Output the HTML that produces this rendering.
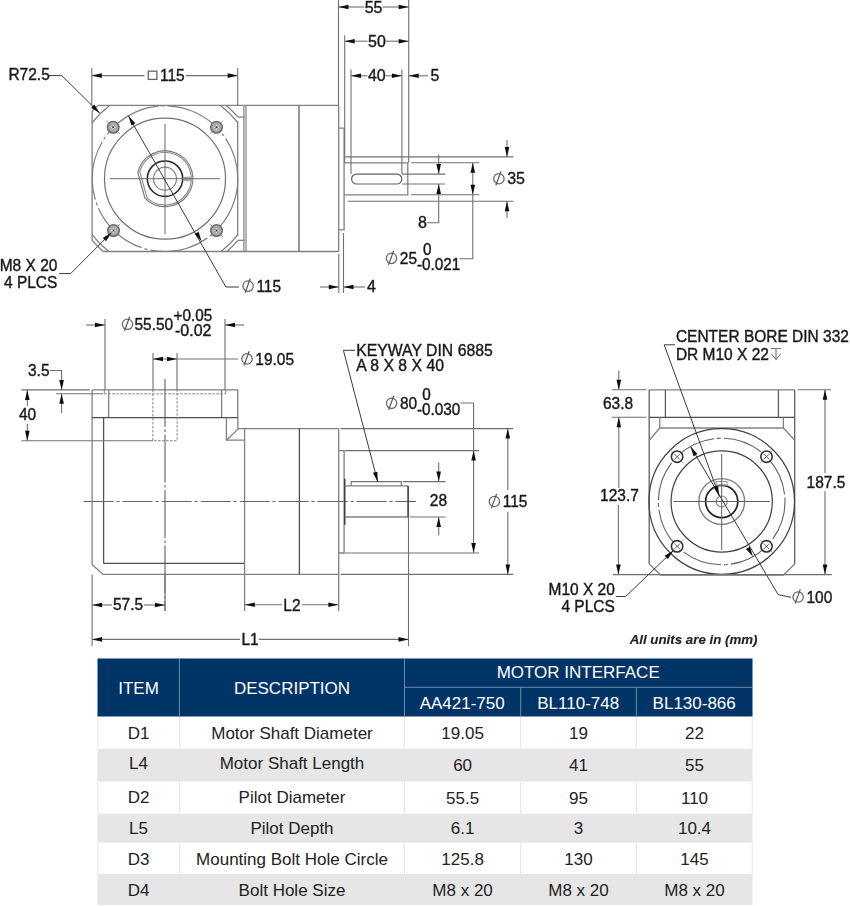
<!DOCTYPE html>
<html><head><meta charset="utf-8"><style>
html,body{margin:0;padding:0;background:#fff;}
svg{display:block;}
text{font-family:"Liberation Sans",sans-serif;}
.dt text{}
</style></head><body>
<svg width="850" height="906" viewBox="0 0 850 906">
<defs><filter id="bl" x="0" y="0" width="850" height="906" filterUnits="userSpaceOnUse"><feGaussianBlur stdDeviation="0.5"/></filter></defs>
<g filter="url(#bl)">
<line x1="92.10" y1="111.00" x2="92.10" y2="240.40" stroke="#808080" stroke-width="1.3" />
<line x1="98.00" y1="105.40" x2="338.70" y2="105.40" stroke="#808080" stroke-width="1.3" />
<line x1="103.20" y1="251.50" x2="338.70" y2="251.50" stroke="#808080" stroke-width="1.3" />
<line x1="237.70" y1="121.30" x2="237.70" y2="236.10" stroke="#808080" stroke-width="1.3" />
<path d="M92.10,111.00 L98.00,105.40" stroke="#808080" stroke-width="1.3" fill="none" />
<path d="M109.57,105.40 A91.9,91.9 0 0 0 92.10,122.74" stroke="#808080" stroke-width="1.3" fill="none"/>
<path d="M220.43,105.40 A91.9,91.9 0 0 1 237.70,122.48" stroke="#808080" stroke-width="1.3" fill="none"/>
<path d="M226.22,105.40 A95.5,95.5 0 0 1 237.70,116.77" stroke="#808080" stroke-width="1.3" fill="none"/>
<path d="M108.91,251.50 A91.9,91.9 0 0 1 92.10,234.66" stroke="#808080" stroke-width="1.3" fill="none"/>
<path d="M103.19,251.50 A95.5,95.5 0 0 1 92.10,240.39" stroke="#808080" stroke-width="1.3" fill="none"/>
<path d="M221.09,251.50 A91.9,91.9 0 0 0 237.70,234.92" stroke="#808080" stroke-width="1.3" fill="none"/>
<path d="M226.81,251.50 A95.5,95.5 0 0 0 237.70,240.63" stroke="#808080" stroke-width="1.3" fill="none"/>
<line x1="237.70" y1="117.00" x2="244.80" y2="117.00" stroke="#808080" stroke-width="1.3" />
<line x1="237.70" y1="240.30" x2="244.80" y2="240.30" stroke="#808080" stroke-width="1.3" />
<circle cx="165.00" cy="178.70" r="72.80" stroke="#808080" stroke-width="1.2" fill="none" stroke-dasharray="60 3 3 3"/>
<circle cx="165.00" cy="178.70" r="60.50" stroke="#707070" stroke-width="1.2" fill="none" />
<path d="M137.82,172.42 A27.9,27.9 0 1 1 144.93,198.08 Z" stroke="#7a7a7a" stroke-width="1.2" fill="none"/>
<path d="M139.72,171.45 A26.3,26.3 0 1 1 147.06,197.93 Z" stroke="#8a8a8a" stroke-width="1.1" fill="none"/>
<circle cx="165.00" cy="178.70" r="17.70" stroke="#2a2a2a" stroke-width="1.6" fill="none" />
<circle cx="165.00" cy="178.70" r="11.50" stroke="#808080" stroke-width="1.2" fill="none" />
<rect x="183.5" y="176.7" width="8.3" height="4.5" fill="#a8a8a8"/>
<line x1="110.00" y1="178.70" x2="220.00" y2="178.70" stroke="#6a6a6a" stroke-width="1.0" />
<line x1="165.00" y1="124.00" x2="165.00" y2="234.00" stroke="#6a6a6a" stroke-width="1.0" />
<line x1="119.94" y1="133.99" x2="106.46" y2="120.61" stroke="#a0a0a0" stroke-width="1.0" />
<circle cx="113.20" cy="127.30" r="5.80" stroke="#6a6a6a" stroke-width="1.5" fill="#ababab" />
<line x1="111.00" y1="127.30" x2="115.40" y2="127.30" stroke="#fff" stroke-width="1.0" />
<line x1="113.20" y1="125.10" x2="113.20" y2="129.50" stroke="#fff" stroke-width="1.0" />
<circle cx="113.20" cy="127.30" r="1.00" stroke="none" stroke-width="0" fill="#222" />
<line x1="209.78" y1="134.01" x2="223.22" y2="120.59" stroke="#a0a0a0" stroke-width="1.0" />
<circle cx="216.50" cy="127.30" r="5.80" stroke="#6a6a6a" stroke-width="1.5" fill="#ababab" />
<line x1="214.30" y1="127.30" x2="218.70" y2="127.30" stroke="#fff" stroke-width="1.0" />
<line x1="216.50" y1="125.10" x2="216.50" y2="129.50" stroke="#fff" stroke-width="1.0" />
<circle cx="216.50" cy="127.30" r="1.00" stroke="none" stroke-width="0" fill="#222" />
<line x1="120.20" y1="223.76" x2="106.80" y2="237.24" stroke="#a0a0a0" stroke-width="1.0" />
<circle cx="113.50" cy="230.50" r="5.80" stroke="#6a6a6a" stroke-width="1.5" fill="#ababab" />
<line x1="111.30" y1="230.50" x2="115.70" y2="230.50" stroke="#fff" stroke-width="1.0" />
<line x1="113.50" y1="228.30" x2="113.50" y2="232.70" stroke="#fff" stroke-width="1.0" />
<circle cx="113.50" cy="230.50" r="1.00" stroke="none" stroke-width="0" fill="#222" />
<line x1="209.80" y1="223.76" x2="223.20" y2="237.24" stroke="#a0a0a0" stroke-width="1.0" />
<circle cx="216.50" cy="230.50" r="5.80" stroke="#6a6a6a" stroke-width="1.5" fill="#ababab" />
<line x1="214.30" y1="230.50" x2="218.70" y2="230.50" stroke="#fff" stroke-width="1.0" />
<line x1="216.50" y1="228.30" x2="216.50" y2="232.70" stroke="#fff" stroke-width="1.0" />
<circle cx="216.50" cy="230.50" r="1.00" stroke="none" stroke-width="0" fill="#222" />
<line x1="128.35" y1="115.80" x2="225.90" y2="287.00" stroke="#3a3a3a" stroke-width="1.0" />
<path d="M128.35,115.80 L131.39,125.60 L135.37,123.28 Z" fill="#111"/>
<path d="M201.65,241.60 L198.61,231.80 L194.63,234.12 Z" fill="#111"/>
<line x1="225.90" y1="287.00" x2="238.80" y2="287.00" stroke="#3a3a3a" stroke-width="1.0" />
<circle cx="248.10" cy="286.10" r="5.20" stroke="#666" stroke-width="1.25" fill="none"/>
<line x1="245.10" y1="292.70" x2="250.30" y2="278.50" stroke="#555" stroke-width="1.2"/>
<text transform="translate(256.40,291.80) scale(0.95,1)" font-size="16.32" text-anchor="start" fill="#1a1a1a" stroke="#1a1a1a" stroke-width="0.4" >115</text>
<text transform="translate(8.40,80.30) scale(0.95,1)" font-size="16.32" text-anchor="start" fill="#1a1a1a" stroke="#1a1a1a" stroke-width="0.4" >R72.5</text>
<path d="M48.50,75.60 L61.80,75.60 L99.80,113.20" stroke="#3a3a3a" stroke-width="1.0" fill="none" />
<path d="M99.80,113.20 L94.31,104.53 L91.07,107.80 Z" fill="#111"/>
<line x1="91.80" y1="68.00" x2="91.80" y2="105.40" stroke="#707070" stroke-width="1.1" />
<line x1="237.70" y1="68.00" x2="237.70" y2="105.40" stroke="#707070" stroke-width="1.1" />
<line x1="91.80" y1="75.60" x2="144.50" y2="75.60" stroke="#707070" stroke-width="1.1" />
<line x1="186.00" y1="75.60" x2="237.70" y2="75.60" stroke="#707070" stroke-width="1.1" />
<path d="M91.80,75.60 L101.80,77.90 L101.80,73.30 Z" fill="#111"/>
<path d="M237.70,75.60 L227.70,73.30 L227.70,77.90 Z" fill="#111"/>
<rect x="148.3" y="71.2" width="8.6" height="8.2" fill="none" stroke="#666" stroke-width="1.3"/>
<text transform="translate(160.00,80.90) scale(0.95,1)" font-size="16.32" text-anchor="start" fill="#1a1a1a" stroke="#1a1a1a" stroke-width="0.4" >115</text>
<text transform="translate(57.40,270.60) scale(0.95,1)" font-size="16.32" text-anchor="end" fill="#1a1a1a" stroke="#1a1a1a" stroke-width="0.4" >M8 X 20</text>
<text transform="translate(57.40,287.90) scale(0.95,1)" font-size="16.32" text-anchor="end" fill="#1a1a1a" stroke="#1a1a1a" stroke-width="0.4" >4 PLCS</text>
<path d="M59.00,273.60 L70.60,273.60 L111.50,232.60" stroke="#3a3a3a" stroke-width="1.0" fill="none" />
<path d="M111.50,232.60 L102.81,238.06 L106.07,241.30 Z" fill="#111"/>
<line x1="243.90" y1="105.40" x2="243.90" y2="251.50" stroke="#888" stroke-width="1.3" />
<line x1="246.00" y1="105.40" x2="246.00" y2="251.50" stroke="#777" stroke-width="1.1" />
<line x1="299.00" y1="105.40" x2="299.00" y2="251.50" stroke="#606060" stroke-width="1.3" />
<line x1="338.70" y1="105.40" x2="338.70" y2="251.50" stroke="#808080" stroke-width="1.3" />
<path d="M338.70,128.20 L344.10,128.20 L344.10,229.80 L338.70,229.80" stroke="#808080" stroke-width="1.3" fill="none" />
<path d="M344.10,162.80 L407.80,162.80 L407.80,194.80 L344.10,194.80" stroke="#808080" stroke-width="1.3" fill="none" />
<rect x="351.6" y="174.1" width="50.2" height="9.9" rx="4.9" fill="none" stroke="#606060" stroke-width="1.2"/>
<line x1="338.50" y1="0.00" x2="338.50" y2="105.40" stroke="#707070" stroke-width="1.1" />
<line x1="344.70" y1="35.30" x2="344.70" y2="162.80" stroke="#707070" stroke-width="1.1" />
<line x1="351.00" y1="69.40" x2="351.00" y2="174.10" stroke="#707070" stroke-width="1.1" />
<line x1="401.90" y1="69.40" x2="401.90" y2="174.10" stroke="#707070" stroke-width="1.1" />
<line x1="408.70" y1="0.00" x2="408.70" y2="162.80" stroke="#707070" stroke-width="1.1" />
<line x1="338.50" y1="7.00" x2="364.50" y2="7.00" stroke="#707070" stroke-width="1.1" />
<line x1="382.50" y1="7.00" x2="408.70" y2="7.00" stroke="#707070" stroke-width="1.1" />
<path d="M338.50,7.00 L348.50,9.30 L348.50,4.70 Z" fill="#111"/>
<path d="M408.70,7.00 L398.70,4.70 L398.70,9.30 Z" fill="#111"/>
<text transform="translate(373.60,12.60) scale(0.95,1)" font-size="16.84" text-anchor="middle" fill="#1a1a1a" stroke="#1a1a1a" stroke-width="0.4" >55</text>
<line x1="344.70" y1="41.20" x2="367.50" y2="41.20" stroke="#707070" stroke-width="1.1" />
<line x1="386.00" y1="41.20" x2="408.70" y2="41.20" stroke="#707070" stroke-width="1.1" />
<path d="M344.70,41.20 L354.70,43.50 L354.70,38.90 Z" fill="#111"/>
<path d="M408.70,41.20 L398.70,38.90 L398.70,43.50 Z" fill="#111"/>
<text transform="translate(377.00,46.80) scale(0.95,1)" font-size="16.84" text-anchor="middle" fill="#1a1a1a" stroke="#1a1a1a" stroke-width="0.4" >50</text>
<line x1="351.00" y1="75.80" x2="367.50" y2="75.80" stroke="#707070" stroke-width="1.1" />
<line x1="385.50" y1="75.80" x2="401.90" y2="75.80" stroke="#707070" stroke-width="1.1" />
<path d="M351.00,75.80 L361.00,78.10 L361.00,73.50 Z" fill="#111"/>
<path d="M401.90,75.80 L391.90,73.50 L391.90,78.10 Z" fill="#111"/>
<text transform="translate(376.80,81.40) scale(0.95,1)" font-size="16.84" text-anchor="middle" fill="#1a1a1a" stroke="#1a1a1a" stroke-width="0.4" >40</text>
<line x1="408.70" y1="75.80" x2="428.00" y2="75.80" stroke="#707070" stroke-width="1.1" />
<path d="M408.70,75.80 L418.70,78.10 L418.70,73.50 Z" fill="#111"/>
<text transform="translate(430.60,81.40) scale(0.95,1)" font-size="16.84" text-anchor="start" fill="#1a1a1a" stroke="#1a1a1a" stroke-width="0.4" >5</text>
<line x1="320.00" y1="287.00" x2="338.80" y2="287.00" stroke="#707070" stroke-width="1.1" />
<path d="M338.80,287.00 L328.80,284.70 L328.80,289.30 Z" fill="#111"/>
<line x1="343.50" y1="287.00" x2="365.00" y2="287.00" stroke="#707070" stroke-width="1.1" />
<path d="M343.50,287.00 L353.50,289.30 L353.50,284.70 Z" fill="#111"/>
<line x1="338.80" y1="254.00" x2="338.80" y2="293.00" stroke="#707070" stroke-width="1.1" />
<line x1="343.50" y1="233.00" x2="343.50" y2="293.00" stroke="#707070" stroke-width="1.1" />
<text transform="translate(367.00,292.30) scale(0.95,1)" font-size="16.84" text-anchor="start" fill="#1a1a1a" stroke="#1a1a1a" stroke-width="0.4" >4</text>
<line x1="345.30" y1="156.90" x2="513.50" y2="156.90" stroke="#707070" stroke-width="1.1" />
<line x1="347.60" y1="201.20" x2="513.50" y2="201.20" stroke="#707070" stroke-width="1.1" />
<line x1="411.00" y1="162.80" x2="479.40" y2="162.80" stroke="#707070" stroke-width="1.1" />
<line x1="411.00" y1="194.80" x2="479.40" y2="194.80" stroke="#707070" stroke-width="1.1" />
<line x1="402.00" y1="174.10" x2="445.30" y2="174.10" stroke="#707070" stroke-width="1.1" />
<line x1="402.00" y1="184.00" x2="445.30" y2="184.00" stroke="#707070" stroke-width="1.1" />
<line x1="438.70" y1="154.80" x2="438.70" y2="174.10" stroke="#707070" stroke-width="1.1" />
<path d="M438.70,174.10 L441.00,164.10 L436.40,164.10 Z" fill="#111"/>
<path d="M438.70,184.00 L438.70,222.80 L426.50,222.80" stroke="#707070" stroke-width="1.1" fill="none" />
<path d="M438.70,184.00 L436.40,194.00 L441.00,194.00 Z" fill="#111"/>
<text transform="translate(418.00,228.40) scale(0.95,1)" font-size="16.84" text-anchor="start" fill="#1a1a1a" stroke="#1a1a1a" stroke-width="0.4" >8</text>
<line x1="507.00" y1="140.00" x2="507.00" y2="156.90" stroke="#707070" stroke-width="1.1" />
<path d="M507.00,156.90 L509.30,146.90 L504.70,146.90 Z" fill="#111"/>
<line x1="507.00" y1="201.20" x2="507.00" y2="218.00" stroke="#707070" stroke-width="1.1" />
<path d="M507.00,201.20 L504.70,211.20 L509.30,211.20 Z" fill="#111"/>
<circle cx="498.90" cy="178.70" r="5.20" stroke="#666" stroke-width="1.25" fill="none"/>
<line x1="495.90" y1="185.30" x2="501.10" y2="171.10" stroke="#555" stroke-width="1.2"/>
<text transform="translate(507.20,184.40) scale(0.95,1)" font-size="16.84" text-anchor="start" fill="#1a1a1a" stroke="#1a1a1a" stroke-width="0.4" >35</text>
<path d="M472.80,162.80 L472.80,258.80 L459.40,258.80" stroke="#707070" stroke-width="1.1" fill="none" />
<path d="M472.80,162.80 L470.50,172.80 L475.10,172.80 Z" fill="#111"/>
<path d="M472.80,194.80 L475.10,184.80 L470.50,184.80 Z" fill="#111"/>
<circle cx="391.50" cy="258.30" r="5.20" stroke="#666" stroke-width="1.25" fill="none"/>
<line x1="388.50" y1="264.90" x2="393.70" y2="250.70" stroke="#555" stroke-width="1.2"/>
<text transform="translate(399.80,264.00) scale(0.95,1)" font-size="16.32" text-anchor="start" fill="#1a1a1a" stroke="#1a1a1a" stroke-width="0.4" >25</text>
<text transform="translate(422.90,254.80) scale(0.95,1)" font-size="16.11" text-anchor="start" fill="#1a1a1a" stroke="#1a1a1a" stroke-width="0.4" >0</text>
<text transform="translate(417.00,270.00) scale(0.95,1)" font-size="16.11" text-anchor="start" fill="#1a1a1a" stroke="#1a1a1a" stroke-width="0.4" >-0.021</text>
<path d="M92.10,389.90 L237.80,389.90 L237.80,428.60" stroke="#808080" stroke-width="1.3" fill="none" />
<line x1="92.10" y1="389.90" x2="92.10" y2="564.60" stroke="#808080" stroke-width="1.3" />
<path d="M92.10,564.60 L103.00,574.40 L338.70,574.40" stroke="#808080" stroke-width="1.3" fill="none" />
<line x1="108.70" y1="389.90" x2="108.70" y2="417.60" stroke="#808080" stroke-width="1.3" />
<line x1="221.60" y1="389.90" x2="221.60" y2="417.60" stroke="#808080" stroke-width="1.3" />
<line x1="92.10" y1="417.60" x2="237.80" y2="417.60" stroke="#505050" stroke-width="1.3" />
<line x1="103.60" y1="417.60" x2="103.60" y2="563.40" stroke="#505050" stroke-width="1.3" />
<line x1="103.60" y1="563.40" x2="244.60" y2="563.40" stroke="#505050" stroke-width="1.3" />
<path d="M226.40,417.60 L226.40,440.20 L244.60,440.20" stroke="#808080" stroke-width="1.3" fill="none" />
<path d="M226.40,440.20 L238.50,428.60" stroke="#808080" stroke-width="1.3" fill="none" />
<line x1="237.80" y1="428.60" x2="338.70" y2="428.60" stroke="#808080" stroke-width="1.3" />
<line x1="244.60" y1="428.60" x2="244.60" y2="611.00" stroke="#808080" stroke-width="1.3" />
<line x1="299.40" y1="428.60" x2="299.40" y2="574.40" stroke="#505050" stroke-width="1.3" />
<line x1="338.70" y1="428.60" x2="338.70" y2="611.00" stroke="#808080" stroke-width="1.3" />
<path d="M152.90,389.90 L152.90,440.70 L177.10,440.70 L177.10,389.90" stroke="#808080" stroke-width="1.0" fill="none" stroke-dasharray="2.5 1.5"/>
<line x1="104.30" y1="393.80" x2="225.70" y2="393.80" stroke="#808080" stroke-width="1.0" stroke-dasharray="2.5 1.5"/>
<line x1="104.30" y1="389.90" x2="104.30" y2="393.80" stroke="#808080" stroke-width="1.0" />
<line x1="225.70" y1="389.90" x2="225.70" y2="393.80" stroke="#808080" stroke-width="1.0" />
<line x1="165.00" y1="379.00" x2="165.00" y2="611.00" stroke="#505050" stroke-width="1.0" stroke-dasharray="48 2.5 2.5 2.5"/>
<line x1="83.60" y1="501.50" x2="416.00" y2="501.50" stroke="#666" stroke-width="1.0" stroke-dasharray="30 3 3 3"/>
<path d="M338.70,450.60 L344.10,450.60 L344.10,553.00 L338.70,553.00" stroke="#808080" stroke-width="1.3" fill="none" />
<line x1="344.80" y1="478.80" x2="344.80" y2="524.70" stroke="#303030" stroke-width="1.3" />
<path d="M344.80,485.90 L408.10,485.90" stroke="#808080" stroke-width="1.3" fill="none" />
<path d="M344.80,517.00 L408.10,517.00" stroke="#808080" stroke-width="1.3" fill="none" />
<line x1="408.10" y1="485.90" x2="408.10" y2="517.00" stroke="#303030" stroke-width="1.5" />
<path d="M351.20,485.90 L351.20,481.60 L401.30,481.60 L401.30,485.90" stroke="#707070" stroke-width="1.1" fill="none" />
<line x1="340.60" y1="428.60" x2="513.20" y2="428.60" stroke="#707070" stroke-width="1.1" />
<line x1="340.60" y1="574.40" x2="513.20" y2="574.40" stroke="#707070" stroke-width="1.1" />
<line x1="345.00" y1="450.60" x2="479.00" y2="450.60" stroke="#707070" stroke-width="1.1" />
<line x1="345.00" y1="553.00" x2="479.00" y2="553.00" stroke="#707070" stroke-width="1.1" />
<line x1="403.00" y1="481.60" x2="445.60" y2="481.60" stroke="#707070" stroke-width="1.1" />
<line x1="410.00" y1="517.00" x2="445.60" y2="517.00" stroke="#707070" stroke-width="1.1" />
<line x1="408.50" y1="517.00" x2="408.50" y2="646.20" stroke="#707070" stroke-width="1.1" />
<line x1="507.80" y1="428.60" x2="507.80" y2="490.00" stroke="#707070" stroke-width="1.1" />
<line x1="507.80" y1="512.00" x2="507.80" y2="574.40" stroke="#707070" stroke-width="1.1" />
<path d="M507.80,428.60 L505.50,438.60 L510.10,438.60 Z" fill="#111"/>
<path d="M507.80,574.40 L510.10,564.40 L505.50,564.40 Z" fill="#111"/>
<circle cx="494.40" cy="501.50" r="5.20" stroke="#666" stroke-width="1.25" fill="none"/>
<line x1="491.40" y1="508.10" x2="496.60" y2="493.90" stroke="#555" stroke-width="1.2"/>
<text transform="translate(502.70,507.20) scale(0.95,1)" font-size="16.32" text-anchor="start" fill="#1a1a1a" stroke="#1a1a1a" stroke-width="0.4" >115</text>
<path d="M460.50,403.00 L473.60,403.00 L473.60,553.00" stroke="#707070" stroke-width="1.1" fill="none" />
<path d="M473.60,450.60 L471.30,460.60 L475.90,460.60 Z" fill="#111"/>
<path d="M473.60,553.00 L475.90,543.00 L471.30,543.00 Z" fill="#111"/>
<circle cx="391.60" cy="403.30" r="5.20" stroke="#666" stroke-width="1.25" fill="none"/>
<line x1="388.60" y1="409.90" x2="393.80" y2="395.70" stroke="#555" stroke-width="1.2"/>
<text transform="translate(399.90,409.00) scale(0.95,1)" font-size="16.32" text-anchor="start" fill="#1a1a1a" stroke="#1a1a1a" stroke-width="0.4" >80</text>
<text transform="translate(422.30,399.50) scale(0.95,1)" font-size="16.11" text-anchor="start" fill="#1a1a1a" stroke="#1a1a1a" stroke-width="0.4" >0</text>
<text transform="translate(417.00,415.00) scale(0.95,1)" font-size="16.11" text-anchor="start" fill="#1a1a1a" stroke="#1a1a1a" stroke-width="0.4" >-0.030</text>
<line x1="438.70" y1="462.60" x2="438.70" y2="481.60" stroke="#707070" stroke-width="1.1" />
<path d="M438.70,481.60 L441.00,471.60 L436.40,471.60 Z" fill="#111"/>
<line x1="438.70" y1="517.00" x2="438.70" y2="535.50" stroke="#707070" stroke-width="1.1" />
<path d="M438.70,517.00 L436.40,527.00 L441.00,527.00 Z" fill="#111"/>
<text transform="translate(429.80,506.00) scale(0.95,1)" font-size="16.32" text-anchor="start" fill="#1a1a1a" stroke="#1a1a1a" stroke-width="0.4" >28</text>
<text transform="translate(356.20,356.20) scale(0.95,1)" font-size="16.63" text-anchor="start" fill="#1a1a1a" stroke="#1a1a1a" stroke-width="0.4" >KEYWAY DIN 6885</text>
<text transform="translate(356.20,371.10) scale(0.95,1)" font-size="16.63" text-anchor="start" fill="#1a1a1a" stroke="#1a1a1a" stroke-width="0.4" >A 8 X 8 X 40</text>
<path d="M355.00,350.30 L343.40,350.30 L377.70,481.90" stroke="#3a3a3a" stroke-width="1.0" fill="none" />
<path d="M377.70,481.90 L377.40,471.64 L372.95,472.80 Z" fill="#111"/>
<line x1="105.00" y1="319.00" x2="105.00" y2="389.90" stroke="#707070" stroke-width="1.1" />
<line x1="225.00" y1="319.00" x2="225.00" y2="389.90" stroke="#707070" stroke-width="1.1" />
<line x1="86.00" y1="325.00" x2="105.00" y2="325.00" stroke="#707070" stroke-width="1.1" />
<path d="M105.00,325.00 L95.00,322.70 L95.00,327.30 Z" fill="#111"/>
<line x1="225.00" y1="325.00" x2="244.00" y2="325.00" stroke="#707070" stroke-width="1.1" />
<path d="M225.00,325.00 L235.00,327.30 L235.00,322.70 Z" fill="#111"/>
<circle cx="127.50" cy="324.30" r="5.20" stroke="#666" stroke-width="1.25" fill="none"/>
<line x1="124.50" y1="330.90" x2="129.70" y2="316.70" stroke="#555" stroke-width="1.2"/>
<text transform="translate(134.40,330.00) scale(0.95,1)" font-size="16.32" text-anchor="start" fill="#1a1a1a" stroke="#1a1a1a" stroke-width="0.4" >55.50</text>
<text transform="translate(173.60,321.00) scale(0.95,1)" font-size="16.11" text-anchor="start" fill="#1a1a1a" stroke="#1a1a1a" stroke-width="0.4" >+0.05</text>
<text transform="translate(175.00,336.40) scale(0.95,1)" font-size="16.84" text-anchor="start" fill="#1a1a1a" stroke="#1a1a1a" stroke-width="0.4" >-0.02</text>
<line x1="153.00" y1="353.00" x2="153.00" y2="389.90" stroke="#707070" stroke-width="1.1" />
<line x1="177.00" y1="353.00" x2="177.00" y2="389.90" stroke="#707070" stroke-width="1.1" />
<line x1="153.00" y1="359.00" x2="238.00" y2="359.00" stroke="#707070" stroke-width="1.1" />
<path d="M153.00,359.00 L163.00,361.30 L163.00,356.70 Z" fill="#111"/>
<path d="M177.00,359.00 L167.00,356.70 L167.00,361.30 Z" fill="#111"/>
<circle cx="247.00" cy="358.90" r="5.20" stroke="#666" stroke-width="1.25" fill="none"/>
<line x1="244.00" y1="365.50" x2="249.20" y2="351.30" stroke="#555" stroke-width="1.2"/>
<text transform="translate(255.30,364.60) scale(0.95,1)" font-size="16.32" text-anchor="start" fill="#1a1a1a" stroke="#1a1a1a" stroke-width="0.4" >19.05</text>
<line x1="21.50" y1="389.90" x2="89.80" y2="389.90" stroke="#707070" stroke-width="1.1" />
<line x1="56.00" y1="393.80" x2="103.00" y2="393.80" stroke="#707070" stroke-width="1.1" />
<line x1="21.50" y1="440.70" x2="152.90" y2="440.70" stroke="#707070" stroke-width="1.1" />
<line x1="27.30" y1="389.90" x2="27.30" y2="406.00" stroke="#707070" stroke-width="1.1" />
<line x1="27.30" y1="424.00" x2="27.30" y2="440.70" stroke="#707070" stroke-width="1.1" />
<path d="M27.30,389.90 L25.00,399.90 L29.60,399.90 Z" fill="#111"/>
<path d="M27.30,440.70 L29.60,430.70 L25.00,430.70 Z" fill="#111"/>
<text transform="translate(18.90,420.40) scale(0.95,1)" font-size="16.32" text-anchor="start" fill="#1a1a1a" stroke="#1a1a1a" stroke-width="0.4" >40</text>
<path d="M50.00,370.50 L61.60,370.50 L61.60,389.90" stroke="#707070" stroke-width="1.1" fill="none" />
<path d="M61.60,389.90 L63.90,379.90 L59.30,379.90 Z" fill="#111"/>
<line x1="61.60" y1="393.80" x2="61.60" y2="413.00" stroke="#707070" stroke-width="1.1" />
<path d="M61.60,393.80 L59.30,403.80 L63.90,403.80 Z" fill="#111"/>
<text transform="translate(28.00,376.40) scale(0.95,1)" font-size="16.32" text-anchor="start" fill="#1a1a1a" stroke="#1a1a1a" stroke-width="0.4" >3.5</text>
<line x1="92.10" y1="574.40" x2="92.10" y2="646.00" stroke="#707070" stroke-width="1.1" />
<line x1="165.00" y1="574.40" x2="165.00" y2="611.00" stroke="#707070" stroke-width="1.1" />
<line x1="92.10" y1="605.00" x2="112.00" y2="605.00" stroke="#707070" stroke-width="1.1" />
<line x1="144.00" y1="605.00" x2="165.00" y2="605.00" stroke="#707070" stroke-width="1.1" />
<path d="M92.10,605.00 L102.10,607.30 L102.10,602.70 Z" fill="#111"/>
<path d="M165.00,605.00 L155.00,602.70 L155.00,607.30 Z" fill="#111"/>
<text transform="translate(113.00,610.40) scale(0.95,1)" font-size="16.32" text-anchor="start" fill="#1a1a1a" stroke="#1a1a1a" stroke-width="0.4" >57.5</text>
<line x1="244.80" y1="604.80" x2="282.00" y2="604.80" stroke="#707070" stroke-width="1.1" />
<line x1="302.00" y1="604.80" x2="338.40" y2="604.80" stroke="#707070" stroke-width="1.1" />
<path d="M244.80,604.80 L254.80,607.10 L254.80,602.50 Z" fill="#111"/>
<path d="M338.40,604.80 L328.40,602.50 L328.40,607.10 Z" fill="#111"/>
<text transform="translate(283.30,610.70) scale(0.95,1)" font-size="16.32" text-anchor="start" fill="#1a1a1a" stroke="#1a1a1a" stroke-width="0.4" >L2</text>
<line x1="92.10" y1="639.40" x2="240.00" y2="639.40" stroke="#707070" stroke-width="1.1" />
<line x1="259.00" y1="639.40" x2="408.50" y2="639.40" stroke="#707070" stroke-width="1.1" />
<path d="M92.10,639.40 L102.10,641.70 L102.10,637.10 Z" fill="#111"/>
<path d="M408.50,639.40 L398.50,637.10 L398.50,641.70 Z" fill="#111"/>
<text transform="translate(241.50,645.00) scale(0.95,1)" font-size="16.32" text-anchor="start" fill="#1a1a1a" stroke="#1a1a1a" stroke-width="0.4" >L1</text>
<line x1="649.20" y1="389.80" x2="794.70" y2="389.80" stroke="#808080" stroke-width="1.3" />
<line x1="649.20" y1="389.80" x2="649.20" y2="564.00" stroke="#606060" stroke-width="1.3" />
<line x1="794.70" y1="389.80" x2="794.70" y2="564.00" stroke="#606060" stroke-width="1.3" />
<line x1="665.40" y1="389.80" x2="665.40" y2="417.30" stroke="#606060" stroke-width="1.3" />
<line x1="778.40" y1="389.80" x2="778.40" y2="417.30" stroke="#606060" stroke-width="1.3" />
<line x1="649.20" y1="417.30" x2="794.70" y2="417.30" stroke="#505050" stroke-width="1.3" />
<path d="M659.80,417.30 L659.80,428.00 L783.40,428.00 L783.40,417.30" stroke="#808080" stroke-width="1.3" fill="none" />
<line x1="649.20" y1="440.20" x2="659.80" y2="428.00" stroke="#808080" stroke-width="1.3" />
<line x1="794.70" y1="440.20" x2="783.40" y2="428.00" stroke="#808080" stroke-width="1.3" />
<path d="M649.20,564.00 L660.70,575.00 L783.40,575.00 L794.70,564.00" stroke="#808080" stroke-width="1.3" fill="none" />
<circle cx="721.70" cy="501.50" r="72.80" stroke="#404040" stroke-width="1.2" fill="none" />
<circle cx="721.70" cy="501.50" r="63.30" stroke="#606060" stroke-width="1.1" fill="none" stroke-dasharray="40 3 4 3"/>
<circle cx="721.70" cy="501.50" r="50.60" stroke="#404040" stroke-width="1.2" fill="none" />
<circle cx="721.70" cy="501.50" r="22.90" stroke="#808080" stroke-width="1.4" fill="none" />
<circle cx="721.70" cy="501.50" r="16.10" stroke="#202020" stroke-width="1.7" fill="none" />
<circle cx="721.70" cy="501.50" r="5.50" stroke="#808080" stroke-width="1.1" fill="none" />
<rect x="716.1" y="481.6" width="10.9" height="3.6" fill="none" stroke="#909090" stroke-width="1.0"/>
<line x1="673.40" y1="501.50" x2="769.80" y2="501.50" stroke="#606060" stroke-width="1.0" />
<line x1="721.70" y1="453.90" x2="721.70" y2="550.20" stroke="#606060" stroke-width="1.0" />
<line x1="683.80" y1="463.43" x2="670.40" y2="449.97" stroke="#a0a0a0" stroke-width="1.0" />
<circle cx="677.10" cy="456.70" r="5.70" stroke="#303030" stroke-width="1.6" fill="#fff" />
<line x1="674.30" y1="453.90" x2="679.90" y2="459.50" stroke="#505050" stroke-width="0.9" />
<line x1="674.30" y1="459.50" x2="679.90" y2="453.90" stroke="#505050" stroke-width="0.9" />
<line x1="759.78" y1="463.42" x2="773.22" y2="449.98" stroke="#a0a0a0" stroke-width="1.0" />
<circle cx="766.50" cy="456.70" r="5.70" stroke="#303030" stroke-width="1.6" fill="#fff" />
<line x1="763.70" y1="453.90" x2="769.30" y2="459.50" stroke="#505050" stroke-width="0.9" />
<line x1="763.70" y1="459.50" x2="769.30" y2="453.90" stroke="#505050" stroke-width="0.9" />
<line x1="683.80" y1="539.57" x2="670.40" y2="553.03" stroke="#a0a0a0" stroke-width="1.0" />
<circle cx="677.10" cy="546.30" r="5.70" stroke="#303030" stroke-width="1.6" fill="#fff" />
<line x1="674.30" y1="543.50" x2="679.90" y2="549.10" stroke="#505050" stroke-width="0.9" />
<line x1="674.30" y1="549.10" x2="679.90" y2="543.50" stroke="#505050" stroke-width="0.9" />
<line x1="759.78" y1="539.58" x2="773.22" y2="553.02" stroke="#a0a0a0" stroke-width="1.0" />
<circle cx="766.50" cy="546.30" r="5.70" stroke="#303030" stroke-width="1.6" fill="#fff" />
<line x1="763.70" y1="543.50" x2="769.30" y2="549.10" stroke="#505050" stroke-width="0.9" />
<line x1="763.70" y1="549.10" x2="769.30" y2="543.50" stroke="#505050" stroke-width="0.9" />
<path d="M690.56,446.43 L778.20,594.70 L791.00,597.30" stroke="#3a3a3a" stroke-width="1.0" fill="none" />
<path d="M690.56,446.43 L693.48,456.27 L697.48,454.00 Z" fill="#111"/>
<path d="M752.84,556.57 L749.92,546.73 L745.92,549.00 Z" fill="#111"/>
<circle cx="798.10" cy="597.00" r="5.20" stroke="#666" stroke-width="1.25" fill="none"/>
<line x1="795.10" y1="603.60" x2="800.30" y2="589.40" stroke="#555" stroke-width="1.2"/>
<text transform="translate(806.40,602.70) scale(0.95,1)" font-size="16.32" text-anchor="start" fill="#1a1a1a" stroke="#1a1a1a" stroke-width="0.4" >100</text>
<text transform="translate(675.90,341.60) scale(0.95,1)" font-size="16.32" text-anchor="start" fill="#1a1a1a" stroke="#1a1a1a" stroke-width="0.4" >CENTER BORE DIN 332</text>
<text transform="translate(675.90,359.70) scale(0.95,1)" font-size="16.32" text-anchor="start" fill="#1a1a1a" stroke="#1a1a1a" stroke-width="0.4" >DR M10 X 22</text>
<path d="M675.00,344.80 L664.20,344.80 L719.30,496.20" stroke="#3a3a3a" stroke-width="1.0" fill="none" />
<path d="M719.30,496.20 L718.04,486.02 L713.72,487.59 Z" fill="#111"/>
<path d="M771.00,348.50 L781.00,348.50" stroke="#777" stroke-width="1.1" fill="none" />
<path d="M776.00,348.50 L776.00,359.50" stroke="#777" stroke-width="1.1" fill="none" />
<path d="M771.50,354.00 L776.00,359.50 L780.50,354.00" stroke="#777" stroke-width="1.1" fill="none" />
<line x1="611.80" y1="389.80" x2="646.50" y2="389.80" stroke="#707070" stroke-width="1.1" />
<line x1="611.80" y1="417.30" x2="646.50" y2="417.30" stroke="#707070" stroke-width="1.1" />
<line x1="618.80" y1="370.80" x2="618.80" y2="389.80" stroke="#707070" stroke-width="1.1" />
<path d="M618.80,389.80 L621.10,379.80 L616.50,379.80 Z" fill="#111"/>
<line x1="618.80" y1="417.30" x2="618.80" y2="488.00" stroke="#707070" stroke-width="1.1" />
<path d="M618.80,417.30 L616.50,427.30 L621.10,427.30 Z" fill="#111"/>
<text transform="translate(602.90,408.90) scale(0.95,1)" font-size="16.32" text-anchor="start" fill="#1a1a1a" stroke="#1a1a1a" stroke-width="0.4" >63.8</text>
<line x1="618.40" y1="505.00" x2="618.40" y2="574.60" stroke="#707070" stroke-width="1.1" />
<path d="M618.40,574.60 L620.70,564.60 L616.10,564.60 Z" fill="#111"/>
<text transform="translate(600.10,501.10) scale(0.95,1)" font-size="16.32" text-anchor="start" fill="#1a1a1a" stroke="#1a1a1a" stroke-width="0.4" >123.7</text>
<line x1="613.00" y1="574.60" x2="831.80" y2="574.60" stroke="#707070" stroke-width="1.1" />
<line x1="797.60" y1="389.80" x2="831.00" y2="389.80" stroke="#707070" stroke-width="1.1" />
<line x1="825.00" y1="389.80" x2="825.00" y2="473.00" stroke="#707070" stroke-width="1.1" />
<line x1="825.00" y1="491.00" x2="825.00" y2="574.60" stroke="#707070" stroke-width="1.1" />
<path d="M825.00,389.80 L822.70,399.80 L827.30,399.80 Z" fill="#111"/>
<path d="M825.00,574.60 L827.30,564.60 L822.70,564.60 Z" fill="#111"/>
<text transform="translate(806.60,487.80) scale(0.95,1)" font-size="16.32" text-anchor="start" fill="#1a1a1a" stroke="#1a1a1a" stroke-width="0.4" >187.5</text>
<text transform="translate(614.80,594.70) scale(0.95,1)" font-size="16.32" text-anchor="end" fill="#1a1a1a" stroke="#1a1a1a" stroke-width="0.4" >M10 X 20</text>
<text transform="translate(614.80,611.80) scale(0.95,1)" font-size="16.32" text-anchor="end" fill="#1a1a1a" stroke="#1a1a1a" stroke-width="0.4" >4 PLCS</text>
<path d="M616.00,596.50 L625.70,596.50 L673.50,550.50" stroke="#3a3a3a" stroke-width="1.0" fill="none" />
<path d="M673.50,550.50 L664.70,555.78 L667.89,559.09 Z" fill="#111"/>
<text x="629.70" y="643.50" font-size="13.3" text-anchor="start" fill="#222" stroke="#222" stroke-width="0.15" font-weight="bold" font-style="italic">All units are in (mm)</text>
</g>
<rect x="97.5" y="658.5" width="655" height="58.2" fill="#003366"/>
<rect x="97.5" y="716.7" width="655" height="32.1" fill="#ffffff"/>
<line x1="97.80" y1="716.70" x2="97.80" y2="748.80" stroke="#e4e4e4" stroke-width="1.0" />
<line x1="179.40" y1="716.70" x2="179.40" y2="748.80" stroke="#e4e4e4" stroke-width="1.0" />
<line x1="404.50" y1="716.70" x2="404.50" y2="748.80" stroke="#e4e4e4" stroke-width="1.0" />
<line x1="520.70" y1="716.70" x2="520.70" y2="748.80" stroke="#e4e4e4" stroke-width="1.0" />
<line x1="636.40" y1="716.70" x2="636.40" y2="748.80" stroke="#e4e4e4" stroke-width="1.0" />
<line x1="752.20" y1="716.70" x2="752.20" y2="748.80" stroke="#e4e4e4" stroke-width="1.0" />
<rect x="97.5" y="748.8" width="655" height="33.0" fill="#e6e6e6"/>
<rect x="97.5" y="781.8" width="655" height="31.9" fill="#ffffff"/>
<line x1="97.80" y1="781.80" x2="97.80" y2="813.70" stroke="#e4e4e4" stroke-width="1.0" />
<line x1="179.40" y1="781.80" x2="179.40" y2="813.70" stroke="#e4e4e4" stroke-width="1.0" />
<line x1="404.50" y1="781.80" x2="404.50" y2="813.70" stroke="#e4e4e4" stroke-width="1.0" />
<line x1="520.70" y1="781.80" x2="520.70" y2="813.70" stroke="#e4e4e4" stroke-width="1.0" />
<line x1="636.40" y1="781.80" x2="636.40" y2="813.70" stroke="#e4e4e4" stroke-width="1.0" />
<line x1="752.20" y1="781.80" x2="752.20" y2="813.70" stroke="#e4e4e4" stroke-width="1.0" />
<rect x="97.5" y="813.7" width="655" height="29.1" fill="#e6e6e6"/>
<rect x="97.5" y="842.8" width="655" height="31.1" fill="#ffffff"/>
<line x1="97.80" y1="842.80" x2="97.80" y2="873.90" stroke="#e4e4e4" stroke-width="1.0" />
<line x1="179.40" y1="842.80" x2="179.40" y2="873.90" stroke="#e4e4e4" stroke-width="1.0" />
<line x1="404.50" y1="842.80" x2="404.50" y2="873.90" stroke="#e4e4e4" stroke-width="1.0" />
<line x1="520.70" y1="842.80" x2="520.70" y2="873.90" stroke="#e4e4e4" stroke-width="1.0" />
<line x1="636.40" y1="842.80" x2="636.40" y2="873.90" stroke="#e4e4e4" stroke-width="1.0" />
<line x1="752.20" y1="842.80" x2="752.20" y2="873.90" stroke="#e4e4e4" stroke-width="1.0" />
<rect x="97.5" y="873.9" width="655" height="31.1" fill="#e6e6e6"/>
<line x1="179.40" y1="658.50" x2="179.40" y2="716.70" stroke="#6f8bab" stroke-width="1.0" />
<line x1="404.50" y1="658.50" x2="404.50" y2="716.70" stroke="#6f8bab" stroke-width="1.0" />
<line x1="520.70" y1="687.30" x2="520.70" y2="716.70" stroke="#6f8bab" stroke-width="1.0" />
<line x1="636.40" y1="687.30" x2="636.40" y2="716.70" stroke="#6f8bab" stroke-width="1.0" />
<line x1="404.50" y1="687.30" x2="752.50" y2="687.30" stroke="#6f8bab" stroke-width="1.0" />
<text x="138.50" y="694.00" font-size="17" text-anchor="middle" fill="#fff"  >ITEM</text>
<text x="292.00" y="694.00" font-size="17" text-anchor="middle" fill="#fff"  >DESCRIPTION</text>
<text x="578.20" y="678.40" font-size="17" text-anchor="middle" fill="#fff"  >MOTOR INTERFACE</text>
<text x="462.20" y="708.80" font-size="17" text-anchor="middle" fill="#fff"  >AA421-750</text>
<text x="578.20" y="708.80" font-size="17" text-anchor="middle" fill="#fff"  >BL110-748</text>
<text x="694.20" y="708.80" font-size="17" text-anchor="middle" fill="#fff"  >BL130-866</text>
<text x="138.50" y="738.90" font-size="17" text-anchor="middle" fill="#222"  >D1</text>
<text x="292.00" y="738.90" font-size="17" text-anchor="middle" fill="#222"  >Motor Shaft Diameter</text>
<text x="462.60" y="738.90" font-size="17" text-anchor="middle" fill="#222"  >19.05</text>
<text x="578.50" y="738.90" font-size="17" text-anchor="middle" fill="#222"  >19</text>
<text x="694.50" y="738.90" font-size="17" text-anchor="middle" fill="#222"  >22</text>
<text x="138.50" y="769.20" font-size="17" text-anchor="middle" fill="#222"  >L4</text>
<text x="292.00" y="769.20" font-size="17" text-anchor="middle" fill="#222"  >Motor Shaft Length</text>
<text x="462.60" y="770.80" font-size="17" text-anchor="middle" fill="#222"  >60</text>
<text x="578.50" y="770.80" font-size="17" text-anchor="middle" fill="#222"  >41</text>
<text x="694.50" y="770.80" font-size="17" text-anchor="middle" fill="#222"  >55</text>
<text x="138.50" y="803.20" font-size="17" text-anchor="middle" fill="#222"  >D2</text>
<text x="292.00" y="803.20" font-size="17" text-anchor="middle" fill="#222"  >Pilot Diameter</text>
<text x="462.60" y="803.70" font-size="17" text-anchor="middle" fill="#222"  >55.5</text>
<text x="578.50" y="803.70" font-size="17" text-anchor="middle" fill="#222"  >95</text>
<text x="694.50" y="803.70" font-size="17" text-anchor="middle" fill="#222"  >110</text>
<text x="138.50" y="834.00" font-size="17" text-anchor="middle" fill="#222"  >L5</text>
<text x="292.00" y="834.00" font-size="17" text-anchor="middle" fill="#222"  >Pilot Depth</text>
<text x="462.60" y="834.00" font-size="17" text-anchor="middle" fill="#222"  >6.1</text>
<text x="578.50" y="834.00" font-size="17" text-anchor="middle" fill="#222"  >3</text>
<text x="694.50" y="834.00" font-size="17" text-anchor="middle" fill="#222"  >10.4</text>
<text x="138.50" y="864.90" font-size="17" text-anchor="middle" fill="#222"  >D3</text>
<text x="292.00" y="864.90" font-size="17" text-anchor="middle" fill="#222"  >Mounting Bolt Hole Circle</text>
<text x="462.60" y="864.90" font-size="17" text-anchor="middle" fill="#222"  >125.8</text>
<text x="578.50" y="864.90" font-size="17" text-anchor="middle" fill="#222"  >130</text>
<text x="694.50" y="864.90" font-size="17" text-anchor="middle" fill="#222"  >145</text>
<text x="138.50" y="896.20" font-size="17" text-anchor="middle" fill="#222"  >D4</text>
<text x="292.00" y="896.20" font-size="17" text-anchor="middle" fill="#222"  >Bolt Hole Size</text>
<text x="462.60" y="896.20" font-size="17" text-anchor="middle" fill="#222"  >M8 x 20</text>
<text x="578.50" y="896.20" font-size="17" text-anchor="middle" fill="#222"  >M8 x 20</text>
<text x="694.50" y="896.20" font-size="17" text-anchor="middle" fill="#222"  >M8 x 20</text>
</svg>
</body></html>
